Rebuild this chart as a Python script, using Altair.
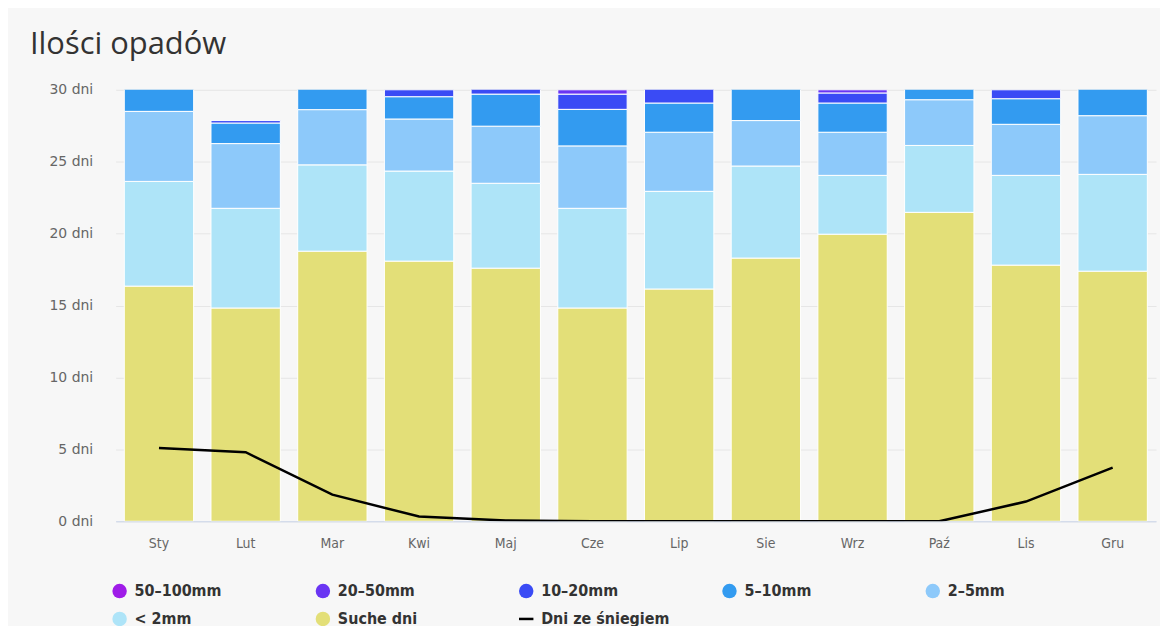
import altair as alt
import pandas as pd

months = ["Sty", "Lut", "Mar", "Kwi", "Maj", "Cze", "Lip", "Sie", "Wrz", "Paź", "Lis", "Gru"]

cats = ["50–100mm", "20–50mm", "10–20mm", "5–10mm", "2–5mm", "< 2mm", "Suche dni", "Dni ze śniegiem"]
colors = ["#9f1ce8", "#6a35f3", "#3a4bf5", "#339bf0", "#8dc9fa", "#aee4f8", "#e3df78", "#000000"]

dry      = [16.35, 14.83, 18.78, 18.09, 17.60, 14.83, 16.15, 18.30, 19.96, 21.48, 17.81, 17.39]
lt2      = [7.28, 6.93, 6.00, 6.26, 5.90, 6.93, 6.79, 6.40, 4.09, 4.65, 6.24, 6.73]
mm2_5    = [4.87, 4.50, 3.84, 3.62, 3.97, 4.34, 4.11, 3.16, 3.00, 3.18, 3.55, 4.08]
mm5_10   = [2.50, 1.43, 2.38, 1.55, 2.23, 2.54, 2.03, 3.14, 2.03, 1.69, 1.78, 2.80]
mm10_20  = [0.00, 0.17, 0.00, 0.48, 1.30, 1.06, 1.92, 0.00, 0.70, 0.00, 0.62, 0.00]
mm20_50  = [0.00, 0.00, 0.00, 0.00, 0.00, 0.30, 0.00, 0.00, 0.22, 0.00, 0.00, 0.00]
mm50_100 = [0.00, 0.00, 0.00, 0.00, 0.00, 0.00, 0.00, 0.00, 0.00, 0.00, 0.00, 0.00]
snow     = [5.10, 4.80, 1.85, 0.33, 0.05, 0.00, 0.00, 0.00, 0.00, 0.00, 1.37, 3.73]

series = [
    ("Suche dni", dry),
    ("< 2mm", lt2),
    ("2–5mm", mm2_5),
    ("5–10mm", mm5_10),
    ("10–20mm", mm10_20),
    ("20–50mm", mm20_50),
    ("50–100mm", mm50_100),
]

rows = []
for i, m in enumerate(months):
    for k, (name, arr) in enumerate(series):
        if arr[i] > 0:
            rows.append({"month": m, "cat": name, "val": arr[i], "ord": k})
df = pd.DataFrame(rows)
snow_df = pd.DataFrame({"month": months, "val": snow, "cat": ["Dni ze śniegiem"] * len(months)})

FONT = "DejaVu Sans Condensed, DejaVu Sans, sans-serif"
YFONT = "DejaVu Sans, sans-serif"

color_scale = alt.Scale(domain=cats, range=colors)

x_enc = alt.X(
    "month:N", sort=months, title=None,
    scale=alt.Scale(paddingInner=0.2, paddingOuter=0.1),
    axis=alt.Axis(labelAngle=0, ticks=False, tickSize=0, domainColor="#ccd6eb", domainWidth=1,
                  labelColor="#666666", labelFontSize=14, labelFont=FONT, labelPadding=15, grid=False),
)
y_scale = alt.Scale(domain=[0, 30], nice=False)

is_snow = "datum.value === 'Dni ze śniegiem'"
legend = alt.Legend(
    title=None, orient="none", legendX=-4, legendY=495, direction="horizontal", columns=5,
    gridAlign="all", columnPadding=47, rowPadding=12,
    symbolType=alt.ExprRef(f"{is_snow} ? 'stroke' : 'circle'"),
    symbolSize=210,
    symbolStrokeColor="#000000",
    symbolStrokeWidth=alt.ExprRef(f"{is_snow} ? 2.5 : 0"),
    labelFontSize=16, labelFontWeight="bold", labelFont=FONT, labelColor="#333333",
    labelOffset=7,
)

bars = alt.Chart(df).mark_bar(stroke="white", strokeWidth=1, clip=True).encode(
    x=x_enc,
    y=alt.Y("val:Q", stack="zero", scale=y_scale, title=None,
            axis=alt.Axis(values=[0, 5, 10, 15, 20, 25, 30], labelExpr="datum.value + ' dni'",
                          domain=False, ticks=False, tickSize=0, gridColor="#e6e6e6",
                          labelColor="#666666", labelFontSize=14, labelFont=YFONT, labelPadding=23)),
    color=alt.Color("cat:N", scale=color_scale, legend=legend),
    order=alt.Order("ord:Q"),
)

line = alt.Chart(snow_df).mark_line(strokeWidth=2.5, clip=True).encode(
    x=alt.X("month:N", sort=months),
    y=alt.Y("val:Q", scale=y_scale),
    color=alt.Color("cat:N", scale=color_scale, legend=legend),
)

chart = alt.layer(bars, line).properties(
    width=1044, height=433,
    autosize=alt.AutoSizeParams(type="none"),
    padding={"left": 108, "top": 81, "right": 4, "bottom": 104},
    background="#f7f7f7",
    title=alt.Title("Ilości opadów", anchor="start", frame="group", fontSize=31, font="Open Sans",
                    fontWeight="normal", color="#333333", dx=-86, offset=22),
).configure_view(stroke=None)

chart.save("out.html", embed_options={"renderer": "svg", "actions": False})
